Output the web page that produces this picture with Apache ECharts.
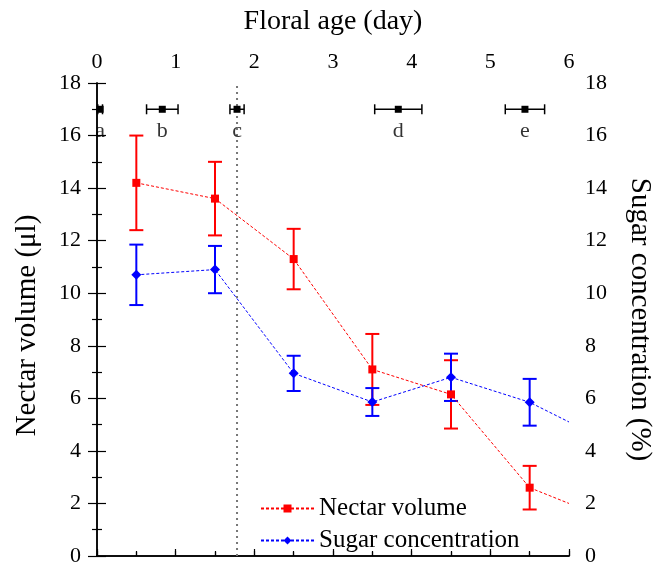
<!DOCTYPE html>
<html><head><meta charset="utf-8">
<script src="https://cdn.jsdelivr.net/npm/echarts@6/dist/echarts.min.js"></script>
<style>html,body{margin:0;padding:0;background:#fff}#c{width:665px;height:567px}</style>
</head><body><div id="c"></div>
<script>
// Data
const days = [0.5, 1.5, 2.5, 3.5, 4.5, 5.5, 6];
const nectar = [14.2, 13.6, 11.3, 7.1, 6.15, 2.6, 2.0];
const nectarErr = [1.8, 1.4, 1.15, 1.35, 1.3, 0.83];
const sugar = [10.7, 10.9, 6.95, 5.86, 6.8, 5.85, 5.1];
const sugarErr = [1.15, 0.9, 0.67, 0.53, 0.9, 0.89];
const stageLabels = ['a', 'b', 'c', 'd', 'e'];
const stageAge = [0.04, 0.83, 1.78, 3.83, 5.44];
const stageErr = [0.03, 0.2, 0.09, 0.3, 0.25];
const stageLevel = 17;
const dividerAge = 1.78;

const FONT = 'Liberation Serif';
const chart = echarts.init(document.getElementById('c'));

function lineData(vals) {
  return days.map((d, i) => i < days.length - 1 ? [d, vals[i]] : {value: [d, vals[i]], symbol: 'none'});
}
function errData(vals, errs) {
  return errs.map((e, i) => [days[i], vals[i], e]);
}
function vErr(color) {
  return function (params, api) {
    const x = api.value(0), y = api.value(1), e = api.value(2);
    const t = api.coord([x, y + e]), b = api.coord([x, y - e]);
    const w = 7, st = {stroke: color, lineWidth: 2};
    return {type: 'group', children: [
      {type: 'line', shape: {x1: t[0], y1: t[1], x2: b[0], y2: b[1]}, style: st},
      {type: 'line', shape: {x1: t[0] - w, y1: t[1], x2: t[0] + w, y2: t[1]}, style: st},
      {type: 'line', shape: {x1: b[0] - w, y1: b[1], x2: b[0] + w, y2: b[1]}, style: st}
    ]};
  };
}
function hErr(params, api) {
  const x = api.value(0), y = api.value(1), e = api.value(2);
  const l = api.coord([x - e, y]), r = api.coord([x + e, y]), c = api.coord([x, y]);
  const h = 5, st = {stroke: '#000', lineWidth: 1.5};
  return {type: 'group', children: [
    {type: 'line', shape: {x1: l[0], y1: l[1], x2: r[0], y2: r[1]}, style: st},
    {type: 'line', shape: {x1: l[0], y1: l[1] - h, x2: l[0], y2: l[1] + h}, style: st},
    {type: 'line', shape: {x1: r[0], y1: r[1] - h, x2: r[0], y2: r[1] + h}, style: st},
    {type: 'rect', shape: {x: c[0] - 3.5, y: c[1] - 3.5, width: 7, height: 7}, style: {fill: '#000'}}
  ]};
}

const axisLine = {show: true, lineStyle: {color: '#000', width: 1.5}};
const labelStyle = {color: '#000', fontFamily: FONT, fontSize: 22};
const nameStyle = {color: '#000', fontFamily: FONT, fontSize: 28};
const yNameStyle = {color: '#000', fontFamily: FONT, fontSize: 29};

const option = {
  animation: false,
  backgroundColor: '#fff',
  grid: {left: 97, right: 96, top: 83, bottom: 11, containLabel: false},
  legend: {
    orient: 'vertical', left: 255, top: 491, itemWidth: 53, itemHeight: 10, itemGap: 7,
    textStyle: {color: '#000', fontFamily: FONT, fontSize: 25},
    data: ['Nectar volume', 'Sugar concentration']
  },
  xAxis: [
    {type: 'value', position: 'bottom', min: 0, max: 6, interval: 0.5,
     axisLine: axisLine, axisLabel: {show: false}, splitLine: {show: false},
     axisTick: {show: true, inside: true, length: 5, lineStyle: {color: '#000', width: 1.2}}},
    {type: 'value', position: 'top', min: 0, max: 6, interval: 1,
     name: 'Floral age (day)', nameLocation: 'middle', nameGap: 47, nameTextStyle: nameStyle,
     axisLine: axisLine, axisLabel: Object.assign({margin: 10}, labelStyle), splitLine: {show: false},
     axisTick: {show: true, length: 7, lineStyle: {color: '#000', width: 1.2}},
     minorTick: {show: true, splitNumber: 2, length: 4, lineStyle: {color: '#000', width: 1.2}}}
  ],
  yAxis: [
    {type: 'value', position: 'left', min: 0, max: 18, interval: 2,
     name: 'Nectar volume (μl)', nameLocation: 'middle', nameGap: 55,
     nameTextStyle: Object.assign({padding: [0, 12, 0, 0]}, yNameStyle),
     axisLine: axisLine, axisLabel: Object.assign({margin: 16}, labelStyle), splitLine: {show: false},
     axisTick: {show: true, length: 9, lineStyle: {color: '#000', width: 1.2}},
     minorTick: {show: true, splitNumber: 2, length: 5, lineStyle: {color: '#000', width: 1.2}}},
    {type: 'value', position: 'right', min: 0, max: 18, interval: 2,
     name: 'Sugar concentration (%)', nameLocation: 'middle', nameGap: 56, nameRotate: -90, nameTextStyle: yNameStyle,
     axisLine: axisLine, axisLabel: Object.assign({margin: 16}, labelStyle), splitLine: {show: false},
     axisTick: {show: true, length: 9, lineStyle: {color: '#000', width: 1.2}},
     minorTick: {show: true, splitNumber: 2, length: 5, lineStyle: {color: '#000', width: 1.2}}}
  ],
  series: [
    {type: 'line', name: 'divider', silent: true, symbol: 'none', legendHoverLink: false,
     data: [[dividerAge, 0], [dividerAge, 18]],
     lineStyle: {color: '#777', width: 2, type: [2, 4]}, z: 1},
    {type: 'custom', name: 'nectarErr', renderItem: vErr('#ff0000'), data: errData(nectar, nectarErr), encode: {x: 0, y: 1}, z: 3},
    {type: 'custom', name: 'sugarErr', renderItem: vErr('#0000ff'), data: errData(sugar, sugarErr), encode: {x: 0, y: 1}, z: 3},
    {type: 'line', name: 'Nectar volume', data: lineData(nectar), symbol: 'rect', symbolSize: 8,
     itemStyle: {color: '#ff0000'}, lineStyle: {color: '#ff0000', width: 1, type: [3, 2]}, z: 4},
    {type: 'line', name: 'Sugar concentration', data: lineData(sugar), symbol: 'diamond', symbolSize: 10,
     itemStyle: {color: '#0000ff'}, lineStyle: {color: '#0000ff', width: 1, type: [3, 2]}, z: 4},
    {type: 'custom', name: 'stages', renderItem: hErr,
     data: stageAge.map((a, i) => [a, stageLevel, stageErr[i]]), encode: {x: 0, y: 1}, z: 5},
    {type: 'scatter', name: 'stageLabels', symbolSize: 1, itemStyle: {color: 'rgba(0,0,0,0)'},
     data: stageAge.map((a, i) => ({value: [a, stageLevel], label: {formatter: stageLabels[i]}})),
     label: {show: true, position: 'bottom', distance: 10, color: '#000', fontFamily: FONT, fontSize: 22}, z: 5}
  ]
};
chart.setOption(option);
</script></body></html>
